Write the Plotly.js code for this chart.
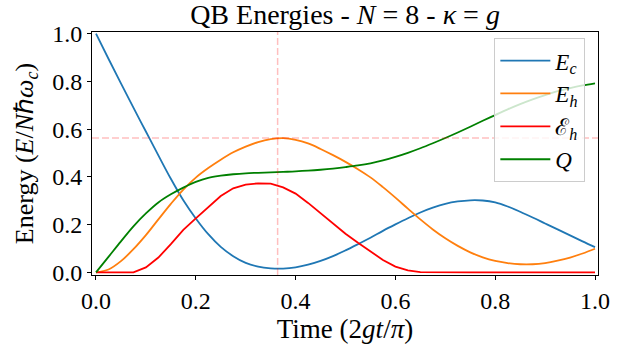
<!DOCTYPE html>
<html>
<head>
<meta charset="utf-8">
<script src="https://cdn.plot.ly/plotly-3.0.1.min.js"></script>
<style>html,body{margin:0;padding:0;background:#fff;}#chart{width:633px;height:346px;}</style>
</head>
<body>
<div id="chart"></div>
<script>
// Time axis (2gt/pi)
const time = [0, 0.025, 0.05, 0.075, 0.1, 0.125, 0.15, 0.175, 0.2, 0.225, 0.25, 0.275, 0.3, 0.325, 0.35, 0.375, 0.4, 0.425, 0.45, 0.475, 0.5, 0.525, 0.55, 0.575, 0.6, 0.625, 0.65, 0.675, 0.7, 0.725, 0.75, 0.775, 0.8, 0.825, 0.85, 0.875, 0.9, 0.925, 0.95, 0.975, 1.0];

// E_c (blue)
const energyCharger = [1.0, 0.895, 0.792, 0.69, 0.59, 0.49, 0.392, 0.302, 0.226, 0.16, 0.107, 0.068, 0.04, 0.024, 0.017, 0.016, 0.021, 0.032, 0.048, 0.068, 0.092, 0.118, 0.145, 0.174, 0.201, 0.227, 0.251, 0.271, 0.287, 0.297, 0.302, 0.301, 0.293, 0.276, 0.254, 0.23, 0.205, 0.18, 0.155, 0.13, 0.106];

// E_h (orange)
const energyHeld = [0, 0.012, 0.047, 0.097, 0.156, 0.222, 0.287, 0.347, 0.397, 0.437, 0.472, 0.503, 0.527, 0.546, 0.558, 0.562, 0.555, 0.54, 0.517, 0.491, 0.463, 0.432, 0.398, 0.357, 0.313, 0.267, 0.222, 0.18, 0.143, 0.111, 0.084, 0.063, 0.048, 0.039, 0.034, 0.034, 0.039, 0.049, 0.062, 0.079, 0.099];

// script E_h (red, ergotropy)
const ergotropy = [0, 0, 0, 0, 0.021, 0.062, 0.118, 0.178, 0.226, 0.272, 0.32, 0.352, 0.368, 0.373, 0.372, 0.356, 0.33, 0.291, 0.247, 0.203, 0.162, 0.124, 0.088, 0.052, 0.024, 0.008, 0.001, 0, 0, 0, 0, 0, 0, 0, 0, 0, 0, 0, 0, 0, 0];

// Q (green)
const quantityQ = [0, 0.065, 0.13, 0.193, 0.247, 0.293, 0.327, 0.355, 0.379, 0.396, 0.405, 0.411, 0.415, 0.417, 0.419, 0.421, 0.423, 0.426, 0.43, 0.435, 0.441, 0.448, 0.457, 0.469, 0.484, 0.501, 0.52, 0.541, 0.563, 0.586, 0.61, 0.635, 0.659, 0.683, 0.705, 0.725, 0.743, 0.759, 0.772, 0.783, 0.792];

// Reference lines at the E_h maximum
const peakTime = [0.364];
const peakEnergy = [0.563];

const xTicks = [0, 0.2, 0.4, 0.6, 0.8, 1.0];
const yTicks = [0, 0.2, 0.4, 0.6, 0.8, 1.0];
const seriesNames = ['<i>E</i><sub><i>c</i></sub>', '<i>E</i><sub><i>h</i></sub>', 'ℰ<sub><i>h</i></sub>', '<i>Q</i>'];

const FONT = '"Liberation Serif", "Times New Roman", serif';
const FS = 24;

const traces = [
  {x: time, y: energyCharger, name: seriesNames[0], line: {color: '#1f77b4', width: 1.8, shape: 'spline'}},
  {x: time, y: energyHeld, name: seriesNames[1], line: {color: '#ff7f0e', width: 1.8, shape: 'spline'}},
  {x: time, y: ergotropy, name: seriesNames[2], line: {color: '#ff0000', width: 1.8}},
  {x: time, y: quantityQ, name: seriesNames[3], line: {color: '#008000', width: 1.8, shape: 'spline'}}
].map(t => Object.assign({type: 'scatter', mode: 'lines'}, t));

const layout = {
  width: 633, height: 346,
  margin: {l: 92, r: 35, t: 32, b: 71},
  paper_bgcolor: '#fff', plot_bgcolor: '#fff',
  font: {family: FONT, size: FS, color: '#000'},
  title: {text: 'QB Energies - <i>N</i> = 8 - <i>κ</i> = <i>g</i>', xref: 'paper', x: 0.5, xanchor: 'center', yref: 'container', y: 0.958, yanchor: 'middle', font: {family: FONT, size: 28, color: '#000'}},
  showlegend: true,
  legend: {x: 0.975, xanchor: 'right', y: 0.975, yanchor: 'top', itemwidth: 50, tracegroupgap: 0, bgcolor: 'rgba(255,255,255,0.8)', bordercolor: '#cccccc', borderwidth: 1, font: {family: FONT, size: 23, color: '#000'}},
  xaxis: {
    range: [-0.008, 1.006], tickvals: xTicks, tickformat: '.1f',
    showgrid: false, zeroline: false, showline: true, mirror: true, linecolor: '#000', linewidth: 1,
    ticks: 'outside', ticklen: 4, tickwidth: 1, tickcolor: '#000',
    tickfont: {family: FONT, size: FS, color: '#000'},
    title: {text: 'Time (2<i>gt</i>/<i>π</i>)', standoff: 0, font: {family: FONT, size: 27, color: '#000'}}
  },
  yaxis: {
    range: [-0.011, 1.007], tickvals: yTicks, tickformat: '.1f',
    showgrid: false, zeroline: false, showline: true, mirror: true, linecolor: '#000', linewidth: 1,
    ticks: 'outside', ticklen: 4, tickwidth: 1, tickcolor: '#000',
    tickfont: {family: FONT, size: FS, color: '#000'},
    title: {text: 'Energy (<i>E</i>/<i>N</i>ℏ<i>ω</i><sub><i>c</i></sub>)', standoff: 11, font: {family: FONT, size: 26, color: '#000'}}
  },
  shapes: [
    {type: 'line', xref: 'x', yref: 'paper', x0: peakTime[0], x1: peakTime[0], y0: 0, y1: 1, line: {color: 'rgba(255,0,0,0.25)', width: 1.5, dash: '7px,3px'}},
    {type: 'line', xref: 'paper', yref: 'y', x0: 0, x1: 1, y0: peakEnergy[0], y1: peakEnergy[0], line: {color: 'rgba(255,0,0,0.25)', width: 1.5, dash: '7px,3px'}}
  ]
};

Plotly.newPlot('chart', traces, layout, {staticPlot: true, displayModeBar: false});
</script>
</body>
</html>
